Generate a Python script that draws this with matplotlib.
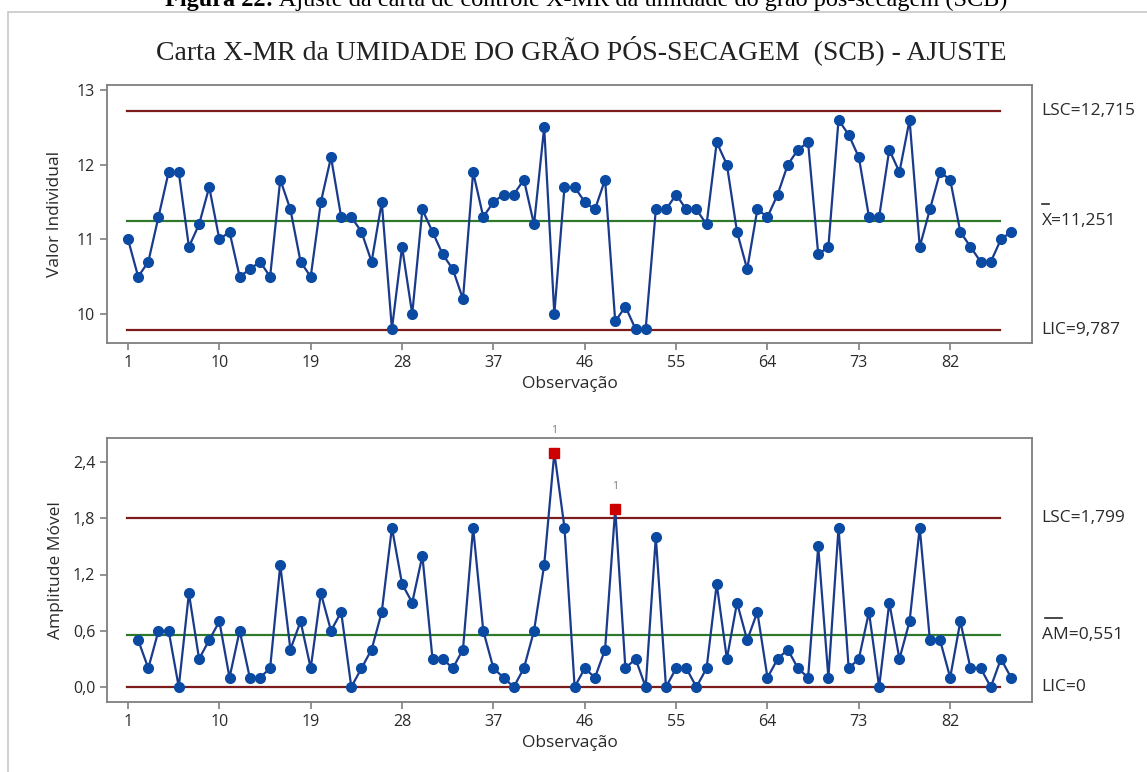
import matplotlib.pyplot as plt
from matplotlib.patches import Rectangle
from matplotlib.lines import Line2D
import matplotlib.transforms as mtransforms

# dados
obs = list(range(1, 89))
valores = [11.0, 10.5, 10.7, 11.3, 11.9, 11.9, 10.9, 11.2, 11.7, 11.0,
           11.1, 10.5, 10.6, 10.7, 10.5, 11.8, 11.4, 10.7, 10.5, 11.5,
           12.1, 11.3, 11.3, 11.1, 10.7, 11.5, 9.8, 10.9, 10.0, 11.4,
           11.1, 10.8, 10.6, 10.2, 11.9, 11.3, 11.5, 11.6, 11.6, 11.8,
           11.2, 12.5, 10.0, 11.7, 11.7, 11.5, 11.4, 11.8, 9.9, 10.1,
           9.8, 9.8, 11.4, 11.4, 11.6, 11.4, 11.4, 11.2, 12.3, 12.0,
           11.1, 10.6, 11.4, 11.3, 11.6, 12.0, 12.2, 12.3, 10.8, 10.9,
           12.6, 12.4, 12.1, 11.3, 11.3, 12.2, 11.9, 12.6, 10.9, 11.4,
           11.9, 11.8, 11.1, 10.9, 10.7, 10.7, 11.0, 11.1]
obs_am = list(range(2, 89))
amplitudes = [0.5, 0.2, 0.6, 0.6, 0.0, 1.0, 0.3, 0.5, 0.7,
              0.1, 0.6, 0.1, 0.1, 0.2, 1.3, 0.4, 0.7, 0.2, 1.0,
              0.6, 0.8, 0.0, 0.2, 0.4, 0.8, 1.7, 1.1, 0.9, 1.4,
              0.3, 0.3, 0.2, 0.4, 1.7, 0.6, 0.2, 0.1, 0.0, 0.2,
              0.6, 1.3, 2.5, 1.7, 0.0, 0.2, 0.1, 0.4, 1.9, 0.2,
              0.3, 0.0, 1.6, 0.0, 0.2, 0.2, 0.0, 0.2, 1.1, 0.3,
              0.9, 0.5, 0.8, 0.1, 0.3, 0.4, 0.2, 0.1, 1.5, 0.1,
              1.7, 0.2, 0.3, 0.8, 0.0, 0.9, 0.3, 0.7, 1.7, 0.5,
              0.5, 0.1, 0.7, 0.2, 0.2, 0.0, 0.3, 0.1]

lsc_x, media_x, lic_x = 12.715, 11.251, 9.787
lsc_am, media_am, lic_am = 1.799, 0.551, 0.0
xticks = [1, 10, 19, 28, 37, 46, 55, 64, 73, 82]

W, H = 1147, 772
cor_linha = "#1a3a8c"
cor_ponto = "#0b4aa2"
cor_lim = "#7a1c1c"
cor_centro = "#2e7a2a"
cor_eixo = "#7f7f7f"
cor_texto = "#2a2a2a"
fonte = ["Open Sans", "DejaVu Sans"]

fig = plt.figure(figsize=(W / 100, H / 100), dpi=100)

# moldura da imagem
fig.patches.append(Rectangle((8 / W, -0.01), 1.2, 1 - 12 / H + 0.01, transform=fig.transFigure,
                             fill=False, edgecolor="#c8c8c8", linewidth=1.2))

# legenda da figura (cortada no topo, como no original)
t_neg = fig.text(165 / W, 1 - 6 / H, "Figura 22:", ha="left", va="baseline", fontsize=17.5,
                 family="Liberation Serif", fontweight="bold")
fig.text(581 / W, 1 - 50 / H, "Carta X-MR da UMIDADE DO GRÃO PÓS-SECAGEM  (SCB) - AJUSTE",
         ha="center", va="center", fontsize=20, family="Liberation Serif", color="#222222")


def eixo(px_left, px_top, px_right, px_bottom):
    return fig.add_axes([px_left / W, 1 - px_bottom / H, (px_right - px_left) / W, (px_bottom - px_top) / H])


def estilo(ax):
    for s in ax.spines.values():
        s.set_color(cor_eixo)
        s.set_linewidth(1.3)
    ax.tick_params(direction="out", length=5, width=1.2, color=cor_eixo, labelsize=11.5,
                   labelcolor=cor_texto)
    for lab in ax.get_xticklabels() + ax.get_yticklabels():
        lab.set_family(fonte)
    ax.set_xlim(-1.07, 90.06)
    ax.set_xticks(xticks)
    ax.set_xticklabels([str(t) for t in xticks])


# carta de valores individuais
ax1 = eixo(107, 85, 1032, 343)
ax1.set_ylim(9.612, 13.067)
ax1.set_yticks([10, 11, 12, 13])
ax1.set_yticklabels(["10", "11", "12", "13"])
ax1.axhline(lsc_x, xmin=0.022, xmax=0.965, color=cor_lim, lw=1.6)
ax1.axhline(lic_x, xmin=0.022, xmax=0.965, color=cor_lim, lw=1.6)
ax1.axhline(media_x, xmin=0.022, xmax=0.965, color=cor_centro, lw=1.6)
ax1.plot(obs, valores, color=cor_linha, lw=1.6, marker="o", ms=7, mfc=cor_ponto, mec=cor_ponto, zorder=3)
estilo(ax1)
ax1.set_ylabel("Valor Individual", fontsize=12.5, family=fonte, color=cor_texto, labelpad=10)
ax1.set_xlabel("Observação", fontsize=12.5, family=fonte, color=cor_texto, labelpad=4)

ax1.annotate(" Ajuste da carta de controle X-MR da umidade do grão pós-secagem (SCB)",
             xy=(1, 0), xycoords=t_neg, va="bottom", ha="left", fontsize=17.5,
             family="Liberation Serif", annotation_clip=False)

# carta de amplitude móvel
ax2 = eixo(107, 438, 1032, 702)
ax2.set_ylim(-0.16, 2.656)
ax2.set_yticks([0.0, 0.6, 1.2, 1.8, 2.4])
ax2.set_yticklabels(["0,0", "0,6", "1,2", "1,8", "2,4"])
ax2.axhline(lsc_am, xmin=0.022, xmax=0.965, color=cor_lim, lw=1.6)
ax2.axhline(lic_am, xmin=0.022, xmax=0.965, color=cor_lim, lw=1.6)
ax2.axhline(media_am, xmin=0.022, xmax=0.965, color=cor_centro, lw=1.6)
ax2.plot(obs_am, amplitudes, color=cor_linha, lw=1.6, marker="o", ms=7, mfc=cor_ponto, mec=cor_ponto, zorder=3)
for o, a in zip(obs_am, amplitudes):
    if a > lsc_am:
        ax2.plot(o, a, marker="s", ms=7, mfc="#cc0000", mec="#cc0000", zorder=4)
        ax2.annotate("1", (o, a), xytext=(0, 14), textcoords="offset points", ha="center",
                     fontsize=7.5, color="#777777", family=fonte)
estilo(ax2)
ax2.set_ylabel("Amplitude Móvel", fontsize=12.5, family=fonte, color=cor_texto, labelpad=6)
ax2.set_xlabel("Observação", fontsize=12.5, family=fonte, color=cor_texto, labelpad=4)


# rótulos dos limites
def rotulo(ax, y, txt, barra=None):
    ax.annotate(txt, (1.0, y), xycoords=("axes fraction", "data"), xytext=(7, 0),
                textcoords="offset points", va="center", ha="left", fontsize=12.5,
                family=fonte, color=cor_texto)
    if barra:
        # barra sobre o símbolo (X barra, AM barra), em pixels
        x0, x1 = barra
        desloc = mtransforms.ScaledTranslation(0, 17 / 100, fig.dpi_scale_trans)
        larg = ax.get_position().width * W
        ax.add_line(Line2D([1 + x0 / larg, 1 + x1 / larg], [y, y], color=cor_texto, lw=1.2,
                           transform=ax.get_yaxis_transform() + desloc, clip_on=False))


rotulo(ax1, lsc_x, "LSC=12,715")
rotulo(ax1, media_x, "X=11,251", (10, 17))
rotulo(ax1, lic_x, "LIC=9,787")
rotulo(ax2, lsc_am, "LSC=1,799")
rotulo(ax2, media_am, "AM=0,551", (13, 30))
rotulo(ax2, lic_am, "LIC=0")

fig.savefig("out.png", dpi=100)
